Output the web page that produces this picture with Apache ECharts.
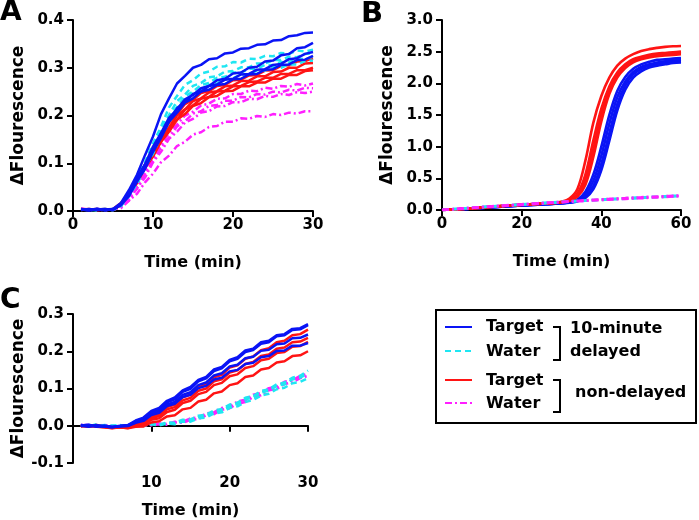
<!DOCTYPE html>
<html>
<head>
<meta charset="utf-8">
<script src="https://cdn.jsdelivr.net/npm/echarts@6/dist/echarts.min.js"></script>
<style>html,body{margin:0;padding:0;background:#fff}#c{width:699px;height:520px}</style>
</head>
<body>
<div id="c"></div>
<script>
// ---------- DATA ----------
// Panel A / C time (min)
const timeA = [1,2,3,4,5,6,7,8,9,10,11,12,13,14,15,16,17,18,19,20,21,22,23,24,25,26,27,28,29,30];
const timeC = [1,2,3,4,5,6,7,8,9,10,11,12,13,14,15,16,17,18,19,20,21,22,23,24,25,26,27,28,29,30];
// Panel B time (min)
const timeB = [0,2,4,6,8,10,12,14,16,18,20,22,24,26,28,30,32,34,36,38,40,42,44,46,48,50,52,54,56,58,60];

// Panel A: 10-minute delayed Target (blue)
const aBlue1 = [0.004,0.002,0.005,0.001,0.004,0.017,0.044,0.076,0.117,0.156,0.203,0.236,0.267,0.283,0.3,0.306,0.318,0.32,0.33,0.332,0.34,0.341,0.348,0.349,0.357,0.358,0.366,0.368,0.373,0.374];
const aBlue2 = [0.003,0.001,0.004,0.003,0.002,0.016,0.036,0.07,0.098,0.135,0.163,0.195,0.213,0.234,0.243,0.257,0.262,0.274,0.277,0.288,0.29,0.3,0.302,0.313,0.315,0.326,0.329,0.341,0.343,0.352];
const aBlue3 = [0.002,0.004,0.002,0.003,0.004,0.012,0.037,0.062,0.097,0.126,0.162,0.188,0.215,0.228,0.245,0.25,0.262,0.265,0.275,0.277,0.286,0.287,0.296,0.297,0.306,0.308,0.318,0.32,0.329,0.333];
const aBlue4 = [0.003,0.002,0.003,0.004,0.002,0.013,0.031,0.062,0.088,0.124,0.153,0.187,0.206,0.227,0.236,0.25,0.254,0.264,0.266,0.276,0.277,0.286,0.287,0.296,0.297,0.306,0.307,0.316,0.317,0.325];
// Panel A: 10-minute delayed Water (cyan)
const aCyan1 = [0.004,0.002,0.003,0.004,0.002,0.015,0.035,0.072,0.102,0.142,0.176,0.217,0.241,0.264,0.274,0.288,0.292,0.302,0.303,0.312,0.311,0.319,0.318,0.325,0.324,0.331,0.329,0.336,0.334,0.338];
const aCyan2 = [0.002,0.004,0.002,0.003,0.004,0.012,0.037,0.064,0.101,0.132,0.172,0.201,0.23,0.244,0.262,0.268,0.28,0.282,0.292,0.293,0.301,0.301,0.309,0.309,0.316,0.316,0.323,0.322,0.329,0.33];
const aCyan3 = [0.003,0.002,0.004,0.002,0.003,0.013,0.031,0.064,0.092,0.13,0.161,0.197,0.218,0.24,0.25,0.264,0.268,0.279,0.281,0.29,0.29,0.298,0.298,0.306,0.305,0.312,0.311,0.319,0.318,0.323];
const aCyan4 = [0.003,0.003,0.001,0.003,0.002,0.01,0.033,0.056,0.091,0.12,0.158,0.185,0.214,0.228,0.246,0.252,0.264,0.267,0.277,0.278,0.286,0.286,0.294,0.294,0.301,0.3,0.307,0.307,0.314,0.315];
// Panel A: non-delayed Target (red)
const aRed1 = [0.003,0.004,0.002,0.003,0.004,0.017,0.037,0.07,0.096,0.13,0.155,0.185,0.203,0.224,0.233,0.247,0.251,0.262,0.264,0.274,0.275,0.284,0.285,0.294,0.295,0.304,0.305,0.313,0.314,0.32];
const aRed2 = [0.002,0.003,0.004,0.002,0.003,0.014,0.039,0.063,0.097,0.122,0.154,0.175,0.2,0.213,0.23,0.236,0.248,0.251,0.261,0.263,0.272,0.273,0.282,0.282,0.291,0.292,0.3,0.3,0.309,0.31];
const aRed3 = [0.003,0.002,0.003,0.004,0.002,0.015,0.034,0.065,0.09,0.122,0.145,0.174,0.191,0.212,0.221,0.235,0.239,0.25,0.252,0.261,0.262,0.27,0.271,0.279,0.279,0.287,0.287,0.295,0.295,0.3];
const aRed4 = [0.004,0.003,0.002,0.003,0.003,0.012,0.036,0.058,0.09,0.114,0.145,0.166,0.191,0.203,0.22,0.226,0.238,0.241,0.251,0.252,0.261,0.261,0.269,0.269,0.277,0.277,0.285,0.285,0.293,0.295];
// Panel A: non-delayed Water (magenta)
const aMag1 = [0.005,0.003,0.004,0.002,0.003,0.011,0.026,0.054,0.078,0.112,0.136,0.165,0.181,0.2,0.208,0.221,0.225,0.235,0.236,0.245,0.245,0.252,0.251,0.258,0.256,0.262,0.26,0.266,0.263,0.267];
const aMag2 = [0.004,0.002,0.003,0.004,0.002,0.008,0.028,0.047,0.078,0.103,0.134,0.154,0.177,0.188,0.204,0.209,0.22,0.222,0.231,0.231,0.239,0.238,0.245,0.244,0.25,0.248,0.254,0.252,0.258,0.257];
const aMag3 = [0.003,0.004,0.002,0.003,0.003,0.009,0.022,0.048,0.07,0.102,0.124,0.151,0.166,0.185,0.193,0.206,0.209,0.219,0.22,0.228,0.228,0.235,0.234,0.241,0.239,0.245,0.243,0.249,0.247,0.25];
const aMag4 = [0.004,0.003,0.003,0.002,0.004,0.006,0.022,0.036,0.06,0.078,0.102,0.116,0.136,0.145,0.16,0.165,0.176,0.178,0.187,0.187,0.194,0.193,0.199,0.197,0.203,0.201,0.206,0.204,0.209,0.209];

// Panel B
const bRed1 = [0,0.006,0.013,0.021,0.03,0.04,0.05,0.06,0.069,0.077,0.085,0.092,0.099,0.106,0.114,0.13,0.18,0.33,0.78,1.38,1.8,2.09,2.28,2.39,2.46,2.51,2.54,2.56,2.575,2.585,2.59];
const bRed2 = [0,0.006,0.012,0.02,0.029,0.039,0.049,0.058,0.067,0.075,0.083,0.09,0.097,0.104,0.112,0.125,0.16,0.26,0.56,1.1,1.6,1.95,2.17,2.3,2.38,2.42,2.45,2.47,2.48,2.49,2.5];
const bRed3 = [0,0.006,0.012,0.02,0.029,0.038,0.048,0.057,0.066,0.074,0.082,0.089,0.096,0.103,0.111,0.123,0.15,0.23,0.47,0.96,1.5,1.9,2.13,2.27,2.35,2.4,2.43,2.45,2.46,2.47,2.48];
const bRed4 = [0,0.005,0.012,0.019,0.028,0.037,0.047,0.056,0.065,0.073,0.081,0.088,0.095,0.102,0.11,0.121,0.145,0.21,0.4,0.84,1.4,1.83,2.09,2.24,2.33,2.38,2.41,2.43,2.44,2.45,2.46];
const bBlue1 = [0,0.005,0.011,0.018,0.026,0.034,0.043,0.051,0.059,0.066,0.073,0.08,0.086,0.093,0.1,0.108,0.125,0.165,0.29,0.56,1.0,1.5,1.88,2.1,2.23,2.3,2.34,2.37,2.38,2.39,2.4];
const bBlue2 = [0,0.005,0.011,0.018,0.025,0.033,0.042,0.05,0.058,0.065,0.072,0.079,0.085,0.092,0.099,0.107,0.12,0.15,0.245,0.46,0.86,1.36,1.78,2.03,2.18,2.26,2.3,2.33,2.35,2.36,2.37];
const bBlue3 = [0,0.005,0.01,0.017,0.025,0.033,0.041,0.049,0.057,0.064,0.071,0.078,0.084,0.091,0.098,0.106,0.118,0.142,0.21,0.38,0.73,1.21,1.67,1.97,2.14,2.23,2.28,2.31,2.33,2.34,2.35];
const bBlue4 = [0,0.005,0.01,0.017,0.024,0.032,0.04,0.048,0.056,0.063,0.07,0.077,0.083,0.09,0.097,0.105,0.116,0.136,0.19,0.33,0.63,1.09,1.57,1.9,2.09,2.19,2.25,2.28,2.3,2.32,2.33];
const bCyan1 = [0,0.009,0.018,0.027,0.036,0.045,0.053,0.061,0.069,0.077,0.085,0.093,0.101,0.109,0.117,0.125,0.132,0.139,0.146,0.153,0.16,0.166,0.172,0.178,0.184,0.19,0.196,0.202,0.208,0.214,0.22];
const bCyan2 = [0,0.01,0.019,0.028,0.037,0.046,0.055,0.064,0.072,0.08,0.089,0.097,0.105,0.113,0.121,0.129,0.137,0.145,0.152,0.159,0.166,0.173,0.179,0.186,0.192,0.198,0.205,0.211,0.217,0.223,0.229];
const bMag1 = [0,0.009,0.018,0.026,0.035,0.044,0.052,0.06,0.068,0.076,0.084,0.092,0.1,0.108,0.115,0.123,0.13,0.137,0.144,0.151,0.158,0.164,0.17,0.176,0.182,0.188,0.194,0.2,0.206,0.212,0.218];
const bMag2 = [0,0.01,0.019,0.029,0.038,0.047,0.056,0.065,0.074,0.082,0.09,0.099,0.107,0.115,0.123,0.131,0.139,0.147,0.154,0.161,0.168,0.175,0.182,0.188,0.195,0.201,0.207,0.213,0.219,0.225,0.231];

// Panel C
const cBlue1 = [0.001,0.003,-0.002,0.001,-0.003,0.0,0.002,0.014,0.022,0.04,0.048,0.067,0.076,0.095,0.104,0.123,0.131,0.151,0.158,0.177,0.184,0.202,0.207,0.224,0.228,0.243,0.246,0.26,0.262,0.273];
const cBlue2 = [0.0,-0.003,0.002,-0.002,-0.004,-0.001,0.001,0.012,0.019,0.036,0.043,0.063,0.071,0.091,0.099,0.119,0.127,0.147,0.154,0.173,0.18,0.198,0.203,0.22,0.224,0.24,0.243,0.257,0.259,0.27];
const cBlue3 = [0.002,0.0,-0.002,-0.002,-0.003,-0.002,0.0,0.01,0.016,0.032,0.038,0.057,0.064,0.083,0.09,0.109,0.116,0.135,0.141,0.159,0.164,0.181,0.185,0.201,0.204,0.219,0.221,0.235,0.236,0.245];
const cBlue4 = [-0.001,0.002,-0.001,-0.002,-0.004,-0.001,-0.001,0.008,0.013,0.029,0.035,0.053,0.059,0.077,0.083,0.101,0.107,0.124,0.129,0.146,0.15,0.166,0.169,0.184,0.187,0.201,0.202,0.215,0.215,0.222];
const cRed1 = [0.0,-0.002,0.002,-0.003,-0.005,-0.004,-0.004,0.004,0.009,0.025,0.031,0.05,0.057,0.076,0.084,0.103,0.111,0.13,0.137,0.156,0.162,0.18,0.186,0.203,0.208,0.224,0.228,0.243,0.246,0.258];
const cRed2 = [-0.002,0.001,-0.002,-0.004,-0.006,-0.003,-0.005,0.002,0.006,0.021,0.026,0.044,0.05,0.068,0.075,0.094,0.1,0.119,0.125,0.143,0.149,0.166,0.171,0.187,0.191,0.207,0.21,0.224,0.226,0.236];
const cRed3 = [0.001,-0.003,0.001,-0.003,-0.005,-0.005,-0.006,0.0,0.002,0.016,0.02,0.037,0.043,0.061,0.067,0.085,0.091,0.109,0.115,0.133,0.138,0.155,0.16,0.176,0.18,0.195,0.198,0.212,0.214,0.225];
const cRed4 = [-0.001,0.0,-0.003,-0.004,-0.007,-0.004,-0.007,-0.003,-0.002,0.009,0.012,0.025,0.028,0.044,0.048,0.065,0.07,0.087,0.092,0.109,0.114,0.131,0.135,0.151,0.155,0.17,0.173,0.187,0.189,0.2];
const cCyan1 = [0.002,-0.002,0.004,-0.001,-0.002,0.002,-0.002,0.003,0.002,0.005,0.003,0.009,0.008,0.016,0.017,0.027,0.03,0.041,0.045,0.057,0.062,0.075,0.08,0.093,0.098,0.111,0.116,0.129,0.134,0.148];
const cCyan2 = [0.0,0.003,-0.003,0.002,-0.001,-0.001,0.0,0.002,0.0,0.006,0.002,0.008,0.006,0.014,0.014,0.024,0.026,0.037,0.041,0.053,0.058,0.071,0.076,0.089,0.094,0.107,0.111,0.124,0.129,0.14];
const cCyan3 = [-0.001,0.002,-0.001,0.0,0.001,0.001,-0.003,0.002,-0.001,0.004,0.001,0.006,0.004,0.011,0.011,0.02,0.022,0.033,0.036,0.048,0.052,0.064,0.069,0.081,0.086,0.098,0.102,0.114,0.118,0.128];
const cMag1 = [0.003,-0.001,-0.002,0.003,-0.002,-0.003,0.001,-0.003,0.004,0.003,0.006,0.005,0.011,0.011,0.02,0.022,0.033,0.036,0.048,0.052,0.065,0.07,0.083,0.088,0.101,0.105,0.118,0.122,0.134,0.14];
const cMag2 = [0.001,0.003,-0.002,-0.002,0.0,-0.003,-0.002,-0.001,0.002,0.001,0.004,0.003,0.009,0.008,0.016,0.018,0.028,0.031,0.043,0.047,0.059,0.064,0.077,0.082,0.095,0.099,0.112,0.116,0.128,0.134];

// Tick ranges [min, max, interval]
const xTicksA = [0, 30, 10];
const xTicksB = [0, 60, 20];
const xTicksC = [0, 30, 10];
const yTicksA = [0, 0.4, 0.1];
const yTicksB = [0, 3, 0.5];
const yTicksC = [-0.1, 0.3, 0.1];

// ---------- STYLE ----------
const BLUE = '#0a14f5', CYAN = '#1fe6f2', RED = '#ff1414', MAG = '#ff1fff';
const FONT = '"DejaVu Sans", "Liberation Sans", Arial, sans-serif';
const DASH = [6, 4];
const DASHDOT = [7, 3, 2, 3];

function pairs(t, v) { return t.map((x, i) => [x, v[i]]); }

function line(gi, t, v, color, type, width) {
  return {
    type: 'line', xAxisIndex: gi, yAxisIndex: gi,
    data: pairs(t, v), showSymbol: false, symbol: 'none',
    smooth: gi === 1 ? 0.35 : false,
    lineStyle: { color: color, width: width || 2.5, type: type || 'solid' },
    animation: false, silent: true
  };
}

function xAxis(gi, ticks, hideZero, gap, margin) {
  return {
    type: 'value', gridIndex: gi, min: ticks[0], max: ticks[1], interval: ticks[2],
    name: 'Time (min)', nameLocation: 'middle', nameGap: gap,
    nameTextStyle: { color: '#000', fontWeight: 'bold', fontSize: 16, fontFamily: FONT },
    axisLine: { onZero: true, lineStyle: { color: '#000', width: 2 } },
    axisTick: { length: 6, lineStyle: { color: '#000', width: 2 } },
    axisLabel: { color: '#000', fontWeight: 'bold', fontSize: 15, fontFamily: FONT, margin: margin,
      formatter: v => (hideZero && v === 0) ? '' : String(v) },
    splitLine: { show: false }
  };
}
function yAxis(gi, ticks) {
  return {
    type: 'value', gridIndex: gi, min: ticks[0], max: ticks[1], interval: ticks[2],
    name: 'ΔFlourescence', nameLocation: 'middle', nameGap: 46,
    nameTextStyle: { color: '#000', fontWeight: 'bold', fontSize: 17, fontFamily: FONT },
    axisLine: { show: true, onZero: false, lineStyle: { color: '#000', width: 2 } },
    axisTick: { show: true, length: 6, lineStyle: { color: '#000', width: 2 } },
    axisLabel: { color: '#000', fontWeight: 'bold', fontSize: 15, fontFamily: FONT, margin: 9,
      formatter: v => v.toFixed(1) },
    splitLine: { show: false }
  };
}

const series = [
  // A
  line(0, timeA, aMag1, MAG, DASHDOT), line(0, timeA, aMag2, MAG, DASHDOT),
  line(0, timeA, aMag3, MAG, DASHDOT), line(0, timeA, aMag4, MAG, DASHDOT),
  line(0, timeA, aRed1, RED), line(0, timeA, aRed2, RED), line(0, timeA, aRed3, RED), line(0, timeA, aRed4, RED),
  line(0, timeA, aCyan1, CYAN, DASH), line(0, timeA, aCyan2, CYAN, DASH),
  line(0, timeA, aCyan3, CYAN, DASH), line(0, timeA, aCyan4, CYAN, DASH),
  line(0, timeA, aBlue4, BLUE), line(0, timeA, aBlue3, BLUE), line(0, timeA, aBlue2, BLUE), line(0, timeA, aBlue1, BLUE),
  // B
  line(1, timeB, bBlue1, BLUE, 'solid', 2.6), line(1, timeB, bBlue2, BLUE, 'solid', 2.6),
  line(1, timeB, bBlue3, BLUE, 'solid', 2.6), line(1, timeB, bBlue4, BLUE, 'solid', 2.6),
  line(1, timeB, bRed4, RED, 'solid', 2.6), line(1, timeB, bRed3, RED, 'solid', 2.6),
  line(1, timeB, bRed2, RED, 'solid', 2.6), line(1, timeB, bRed1, RED, 'solid', 2.6),
  line(1, timeB, bCyan1, CYAN, DASH, 2.6), line(1, timeB, bCyan2, CYAN, DASH, 2.6),
  line(1, timeB, bMag1, MAG, DASHDOT, 2.6), line(1, timeB, bMag2, MAG, DASHDOT, 2.6),
  // C
  line(2, timeC, cMag1, MAG, DASHDOT), line(2, timeC, cMag2, MAG, DASHDOT),
  line(2, timeC, cCyan1, CYAN, DASH), line(2, timeC, cCyan2, CYAN, DASH), line(2, timeC, cCyan3, CYAN, DASH),
  line(2, timeC, cRed4, RED), line(2, timeC, cRed3, RED), line(2, timeC, cRed2, RED), line(2, timeC, cRed1, RED),
  line(2, timeC, cBlue4, BLUE), line(2, timeC, cBlue3, BLUE), line(2, timeC, cBlue2, BLUE), line(2, timeC, cBlue1, BLUE)
];

function txt(x, y, s, size, align) {
  return { type: 'text', x: x, y: y, silent: true,
    style: { text: s, font: 'bold ' + size + 'px ' + FONT, fill: '#000',
      align: align || 'left', verticalAlign: 'middle' } };
}
function seg(x1, y1, x2, y2, color, dash) {
  return { type: 'line', silent: true, shape: { x1: x1, y1: y1, x2: x2, y2: y2 },
    style: { stroke: color, lineWidth: 2, lineDash: dash || null } };
}
function bracket(x1, x2, y1, y2) {
  return { type: 'polyline', silent: true, shape: { points: [[x1, y1], [x2, y1], [x2, y2], [x1, y2]] },
    style: { stroke: '#000', lineWidth: 2, fill: null } };
}

const graphic = [
  txt(0, 13, 'A', 28), txt(361, 14, 'B', 29), txt(0, 301, 'C', 28),
  { type: 'rect', silent: true, shape: { x: 436, y: 310, width: 260, height: 113 },
    style: { fill: 'none', stroke: '#000', lineWidth: 2 } },
  seg(445, 327, 472, 327, BLUE), seg(445, 351, 472, 351, CYAN, [6, 4]),
  seg(445, 380, 472, 380, RED), seg(445, 403, 472, 403, MAG, [7, 3, 2, 3]),
  txt(486, 327, 'Target', 16), txt(486, 352, 'Water', 16),
  txt(486, 381, 'Target', 16), txt(486, 404, 'Water', 16),
  bracket(553, 560, 327, 360), bracket(553, 560, 380, 412),
  txt(570, 329, '10-minute', 16), txt(570, 352, 'delayed', 16),
  txt(575, 393, 'non-delayed', 16)
];

const chart = echarts.init(document.getElementById('c'), null, { renderer: 'canvas' });
chart.setOption({
  backgroundColor: '#fff',
  animation: false,
  grid: [
    { left: 73, top: 20, width: 240, height: 191 },
    { left: 442, top: 20, width: 239, height: 190 },
    { left: 73, top: 314, width: 235, height: 189 }
  ],
  xAxis: [xAxis(0, xTicksA, false, 44, 7), xAxis(1, xTicksB, false, 44, 7), xAxis(2, xTicksC, true, 40, 13)],
  yAxis: [yAxis(0, yTicksA), yAxis(1, yTicksB), yAxis(2, yTicksC)],
  series: series,
  graphic: graphic
});
</script>
</body>
</html>
